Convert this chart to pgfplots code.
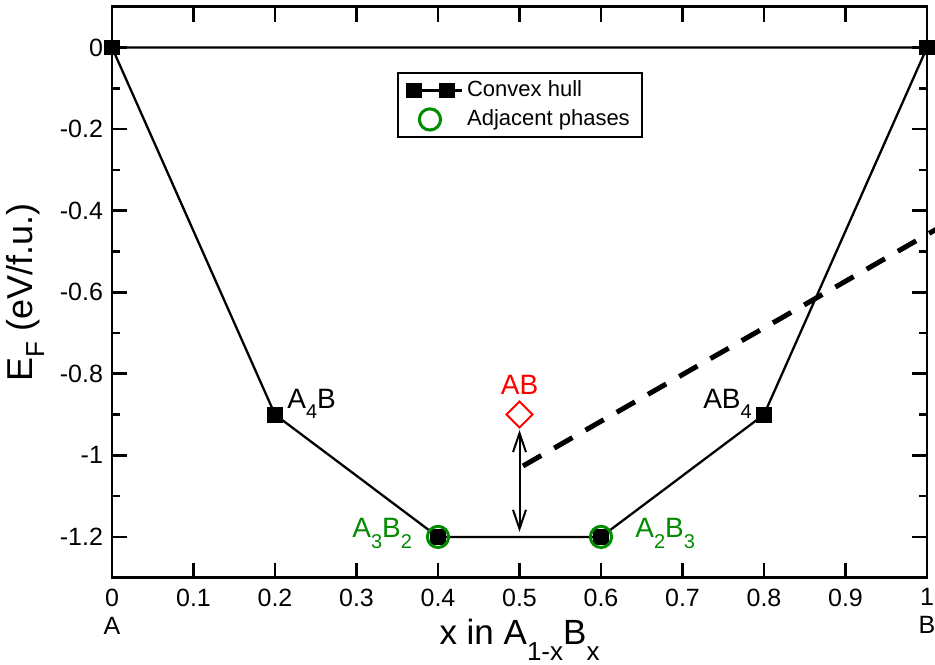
\documentclass[border=0pt]{standalone}
\usepackage{pgfplots}
\pgfplotsset{compat=1.18}
\usepackage{fontspec}
\setmainfont{Liberation Sans}
\usetikzlibrary{arrows.meta}
\definecolor{xgreen}{RGB}{0,139,0}
\newcommand{\sub}[3]{\raisebox{-#2pt}{\fontsize{#1}{#1}\selectfont #3}}
\pgfplotsset{
  hullimg/.style={legend image code/.code={\draw[##1] plot coordinates {(0pt,0pt) (16.5pt,0pt)}; \path (-3.4pt,0pt) -- (24pt,0pt);}},
  circimg/.style={legend image code/.code={\draw[##1] plot coordinates {(8pt,0pt)};}},
}
\begin{document}
\begin{tikzpicture}
\begin{axis}[
  at={(0,0)}, anchor=south west,
  scale only axis, width=407.5pt, height=285.5pt,
  xmin=0, xmax=1, ymin=-1.3, ymax=0.1,
  clip=false,
  axis line style={line width=1.3pt},
  every tick/.style={black, line width=1.3pt},
  major tick length=7.5pt, minor tick length=4pt,
  tick align=inside,
  xtick={0,0.1,0.2,0.3,0.4,0.5,0.6,0.7,0.8,0.9,1},
  xticklabels={{0\\A},0.1,0.2,0.3,0.4,0.5,0.6,0.7,0.8,0.9,{1\\B}},
  xticklabel style={align=center, font=\fontsize{12.5}{14}\selectfont, yshift=-2pt},
  ytick={-1.2,-1,-0.8,-0.6,-0.4,-0.2,0},
  minor y tick num=1,
  /pgf/number format/assume math mode=true,
  yticklabel style={font=\fontsize{12.5}{14}\selectfont, xshift=-1pt},
  xlabel={x in A\sub{13}{8}{1-x}B\sub{13}{8}{x}},
  xlabel style={at={(axis description cs:0.5,-0.1173)}, anchor=base, font=\fontsize{17.5}{20}\selectfont},
  ylabel={E\sub{13}{6}{F} (eV/f.u.)},
  ylabel style={at={(axis description cs:-0.1067,0.5)}, anchor=center, font=\fontsize{18}{21}\selectfont},
  legend style={at={(0.3497,0.8856)}, anchor=north west, draw=black, line width=1pt,
    font=\fontsize{11}{13}\selectfont, inner xsep=4pt, inner ysep=2pt, row sep=1pt},
  legend cell align=left,
]
% convex hull
\addplot[black, line width=1.15pt, mark=square*, mark size=3.4pt, hullimg]
  coordinates {(0,0) (0.2,-0.9) (0.4,-1.2) (0.6,-1.2) (0.8,-0.9) (1,0) (0,0)};
\addlegendentry{Convex hull}
% adjacent phases
\addplot[only marks, xgreen, mark=o, mark size=5.3pt, line width=1.5pt, circimg]
  coordinates {(0.4,-1.2) (0.6,-1.2)};
\addlegendentry{Adjacent phases}
% AB phase
\addplot[only marks, red, mark=square, mark size=4.6pt, line width=1pt,
  mark options={rotate=45}, forget plot]
  coordinates {(0.5,-0.9)};
% dashed line
\addplot[black, line width=2.5pt, dash pattern=on 10.5pt off 7.5pt, forget plot]
  coordinates {(0.5043,-1.026) (1.03,-0.4244)};
% arrow
\draw[line width=1pt, {Straight Barb[length=9.5pt,width=6.5pt]}-{Straight Barb[length=9.5pt,width=6.5pt]}]
  (axis cs:0.5,-0.938) -- (axis cs:0.5,-1.1876);
% labels
\node[anchor=base west, inner sep=0pt, font=\fontsize{14}{16}\selectfont] at (axis cs:0.2147,-0.884) {A\sub{10}{5}{4}B};
\node[anchor=base west, inner sep=0pt, font=\fontsize{14}{16}\selectfont] at (axis cs:0.725,-0.884) {AB\sub{10}{5}{4}};
\node[anchor=base west, inner sep=0pt, font=\fontsize{14}{16}\selectfont, text=xgreen] at (axis cs:0.2945,-1.2025) {A\sub{10}{5.5}{3}B\sub{10}{5.5}{2}};
\node[anchor=base west, inner sep=0pt, font=\fontsize{14}{16}\selectfont, text=xgreen] at (axis cs:0.6417,-1.2025) {A\sub{10}{5.5}{2}B\sub{10}{5.5}{3}};
\node[anchor=base, inner sep=0pt, font=\fontsize{14}{16}\selectfont, text=red] at (axis cs:0.5,-0.852) {AB};
\end{axis}
\pgfresetboundingbox
\path[use as bounding box] (-56pt,-43.5pt) rectangle (411.5pt,288.85pt);
\end{tikzpicture}
\end{document}
